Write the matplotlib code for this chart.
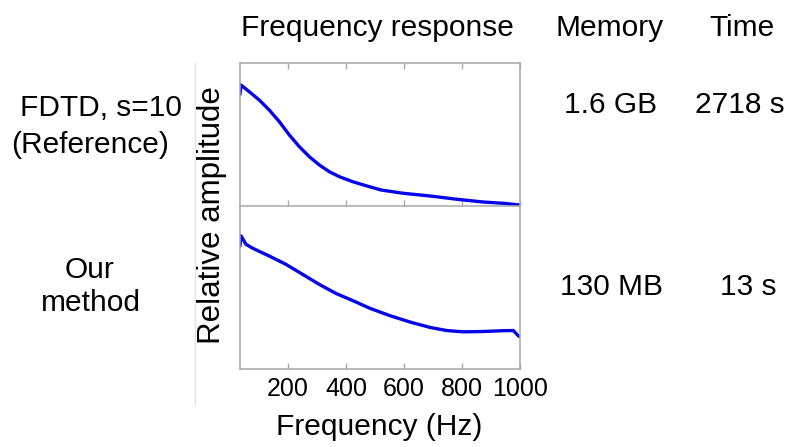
import matplotlib.pyplot as plt
from matplotlib.lines import Line2D

plt.rcParams["font.family"] = ["Liberation Sans", "DejaVu Sans"]

# Frequency response curves (relative amplitude 0..1)
freq_ref = [34.5, 38, 66.6, 101, 135.5, 170, 204.5, 239, 273.5, 308, 342.4, 377,
            423, 469, 521, 596.6, 690, 783, 872.5, 941.4, 1000]
amp_ref = [0.781, 0.846, 0.799, 0.741, 0.671, 0.590, 0.497, 0.415, 0.345, 0.287, 0.240, 0.205,
           0.170, 0.142, 0.112, 0.089, 0.070, 0.047, 0.028, 0.019, 0.007]

freq_ours = [34.5, 38, 55, 78, 135.5, 193, 251, 308, 366, 423, 483, 552, 621, 690,
             747, 804.5, 873.5, 942, 977, 994, 1000]
amp_ours = [0.755, 0.817, 0.765, 0.741, 0.693, 0.642, 0.580, 0.519, 0.463, 0.420, 0.372,
            0.327, 0.288, 0.255, 0.236, 0.228, 0.230, 0.235, 0.236, 0.204, 0.198]

xticks = [200, 400, 600, 800, 1000]
row_labels = [["FDTD, s=10", "(Reference)"], ["Our", "method"]]
memory = ["1.6 GB", "130 MB"]
times = ["2718 s", "13 s"]

W, H = 795, 447
fig = plt.figure(figsize=(W / 100, H / 100), dpi=100)
grey = "#a8a8a8"
blue = "#0505e8"


def fx(px):
    return px / W


def fy(py):
    return 1 - py / H


ax_top = fig.add_axes([fx(240), fy(206), fx(520) - fx(240), fy(63) - fy(206)])
ax_bot = fig.add_axes([fx(240), fy(369), fx(520) - fx(240), fy(206) - fy(369)])
ax_bot.patch.set_alpha(0)
ax_top.set_zorder(1)
ax_top.patch.set_alpha(0)

for ax, f, a in [(ax_top, freq_ref, amp_ref), (ax_bot, freq_ours, amp_ours)]:
    ax.plot(f, a, color=blue, lw=2.4, solid_joinstyle="round", solid_capstyle="round")
    ax.set_xlim(34.5, 1000)
    ax.set_ylim(0, 1)
    ax.set_yticks([])
    ax.set_xticks(xticks)
    for s in ax.spines.values():
        s.set_color(grey)
        s.set_linewidth(1.1)
    ax.tick_params(axis="x", direction="in", color=grey, length=4, width=1,
                   labelsize=18, pad=6)

ax_top.tick_params(axis="x", top=True, labelbottom=False)
ax_bot.spines["top"].set_visible(False)

fig.text(fx(377), fy(28), "Frequency response", ha="center", va="center", fontsize=21.5)
fig.text(fx(610), fy(28), "Memory", ha="center", va="center", fontsize=21.5)
fig.text(fx(742), fy(28), "Time", ha="center", va="center", fontsize=21.5)
fig.text(fx(212), fy(215), "Relative amplitude", ha="center", va="center",
         rotation=90, fontsize=22.5)
fig.text(fx(379), fy(427), "Frequency (Hz)", ha="center", va="center", fontsize=21.5)

# row labels on the left
fig.text(fx(101), fy(108), row_labels[0][0], ha="center", va="center", fontsize=21.5)
fig.text(fx(90), fy(145), row_labels[0][1], ha="center", va="center", fontsize=21.5)
fig.text(fx(90), fy(270), row_labels[1][0], ha="center", va="center", fontsize=21.5)
fig.text(fx(91), fy(303), row_labels[1][1], ha="center", va="center", fontsize=21.5)

fig.text(fx(611), fy(105), memory[0], ha="center", va="center", fontsize=21.5)
fig.text(fx(740), fy(105), times[0], ha="center", va="center", fontsize=21.5)
fig.text(fx(611), fy(287), memory[1], ha="center", va="center", fontsize=21.5)
fig.text(fx(748), fy(287), times[1], ha="center", va="center", fontsize=21.5)

# faint slide divider
fig.add_artist(Line2D([fx(195), fx(195)], [fy(63), fy(405)], color="#e4e4e4", lw=1))

fig.savefig("out.png", dpi=100)
